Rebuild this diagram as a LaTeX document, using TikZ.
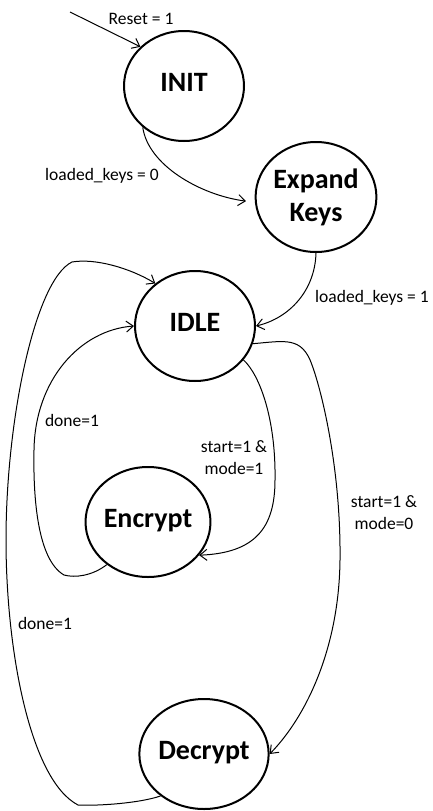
\documentclass[tikz,border=0pt]{standalone}
\usepackage{fontspec}
\setmainfont{Carlito}
\usetikzlibrary{arrows.meta,shapes.geometric}
\begin{document}
\begin{tikzpicture}[x=1pt,y=-1pt,
  statebox/.style={draw, ellipse, line width=2pt, minimum width=120pt,
    minimum height=110pt, inner sep=0pt,
    font=\fontsize{28}{33}\selectfont\bfseries},
  oneline/.style={text height=18pt, text depth=8pt},
  edge/.style={line width=1pt, -{Straight Barb[length=7pt,width=11pt]}},
  lbl/.style={font=\fontsize{17.5}{22}\selectfont, inner sep=0pt, align=center}]
\useasboundingbox (0,0) rectangle (433,811);

% states
\node[statebox,oneline] (init) at (184,86) {INIT};
\node[statebox,align=center] (expand) at (316,197) {Expand\\Keys};
\node[statebox,oneline] (idle) at (195,326) {IDLE};
\node[statebox,oneline] (enc) at (148,522) {Encrypt};
\node[statebox,oneline] (dec) at (204,754) {Decrypt};

% reset entry
\coordinate (rst) at (70,12);
\draw[edge] (rst) -- (init.138);

% transitions
\draw[edge, shorten >=9pt] (init.225) .. controls (148,165) and (200,195) .. (expand.185);
\draw[edge] (expand.south) .. controls (315,290) and (290,318) .. (idle.east);
\draw[edge] (idle.-17) .. controls (285,341) and (302,336) .. (312,365)
  .. controls (322,392) and (341,470) .. (340,560)
  .. controls (339,650) and (305,718) .. (dec.east);
\draw[edge] (idle.-35) .. controls (260,375) and (276,420) .. (275,480)
  .. controls (275,528) and (255,553) .. (enc.-33);
\draw[edge] (enc.226) .. controls (92,576) and (75,578) .. (64,575)
  .. controls (38,560) and (33,500) .. (34,450)
  .. controls (35,380) and (80,330) .. (idle.west);
\draw[edge] (dec.224) .. controls (140,803) and (100,806) .. (78,805)
  .. controls (30,780) and (6,650) .. (6,540)
  .. controls (6,420) and (35,280) .. (72,262)
  .. controls (95,258) and (130,268) .. (idle.133);

% transition labels
\node[lbl] (lreset) at (141,19) {Reset = 1};
\node[lbl] (lk0) at (102,176) {loaded\_keys = 0};
\node[lbl] (lk1) at (372,298) {loaded\_keys = 1};
\node[lbl] (lm1) at (234,458) {start=1 \&\\mode=1};
\node[lbl] (lm0) at (384,513) {start=1 \&\\mode=0};
\node[lbl] (ld1) at (72,420) {done=1};
\node[lbl] (ld2) at (45,623) {done=1};
\end{tikzpicture}
\end{document}
